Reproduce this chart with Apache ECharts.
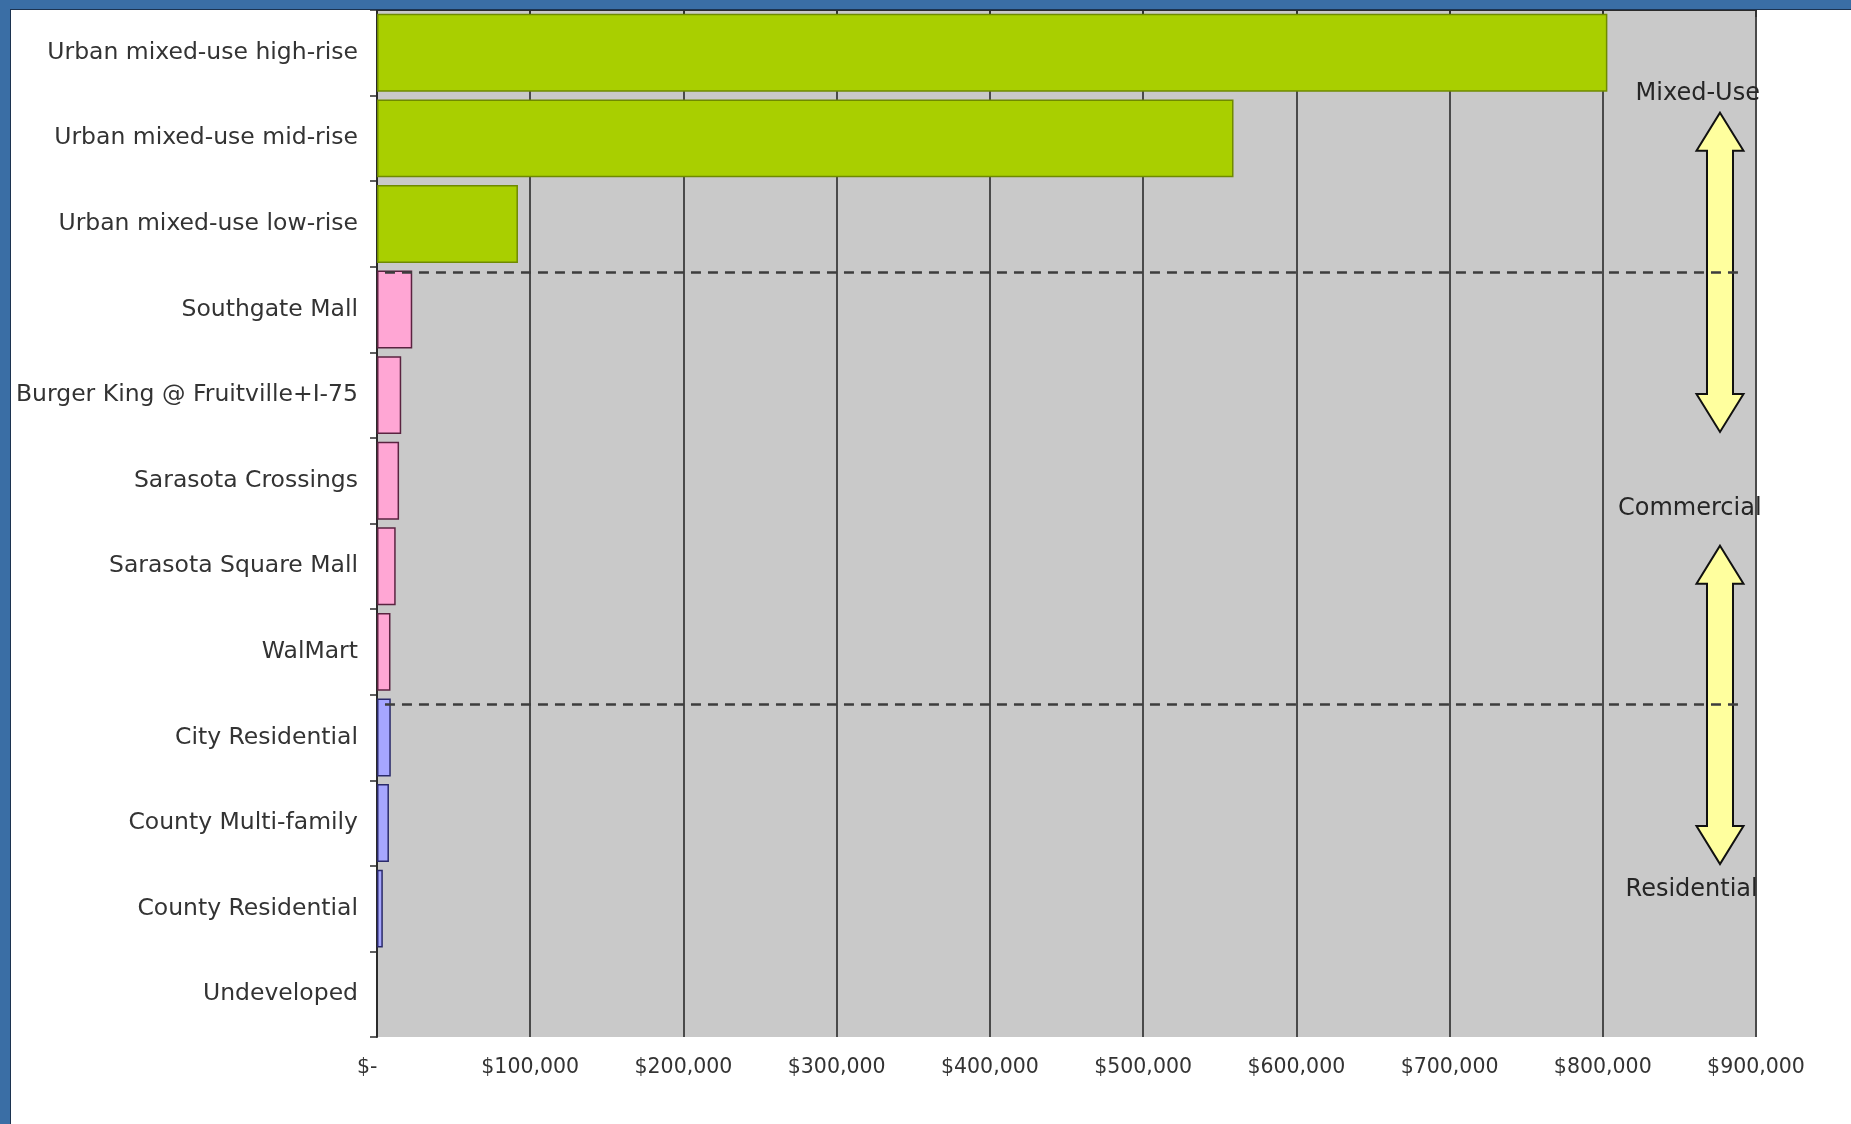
<!DOCTYPE html>
<html>
<head>
<meta charset="utf-8">
<script src="https://cdn.jsdelivr.net/npm/echarts@6.0.0/dist/echarts.min.js"></script>
<style>
  html, body { margin: 0; padding: 0; width: 1851px; height: 1124px; background: #3a6ea5; overflow: hidden; }
  #main { position: absolute; left: 10px; top: 9px; right: 0; bottom: 0; background: #fff;
          border-left: 1px solid #1c3350; border-top: 1px solid #1c3350; box-sizing: border-box; }
</style>
</head>
<body>
<div id="main"></div>
<script>
var categories = [
    'Urban mixed-use high-rise',
    'Urban mixed-use mid-rise',
    'Urban mixed-use low-rise',
    'Southgate Mall',
    'Burger King @ Fruitville+I-75',
    'Sarasota Crossings',
    'Sarasota Square Mall',
    'WalMart',
    'City Residential',
    'County Multi-family',
    'County Residential',
    'Undeveloped'
];
var values = [803000, 559000, 92000, 23000, 15800, 14400, 12200, 8800, 9000, 7800, 3800, 0];
var groups = ['mixed', 'mixed', 'mixed', 'commercial', 'commercial', 'commercial', 'commercial', 'commercial',
    'residential', 'residential', 'residential', 'residential'];

// annotations, in data units: x in dollars, y in category rows (0 = top of the plot, 12 = bottom)
var dividers = [3.06, 8.11];
var dividerSpan = [5200, 888300];
var arrows = [[876500, 1.20, 4.93], [876500, 6.26, 9.98]];
var sectionLabels = [
    ['Mixed-Use', 862000, 0.98],
    ['Commercial', 856800, 5.83],
    ['Residential', 858000, 10.28]
];

var groupStyle = {
    mixed: { color: '#a9cf00', borderColor: '#6f8a00' },
    commercial: { color: '#ffa6d4', borderColor: '#5a2340' },
    residential: { color: '#a6a6ff', borderColor: '#2a2a6a' }
};

var chartDom = document.getElementById('main');
var myChart = echarts.init(chartDom);
var option;

var barData = values.map(function (v, i) {
    var s = groupStyle[groups[i]];
    return { value: v, itemStyle: { color: s.color, borderColor: s.borderColor, borderWidth: v > 0 ? 1.5 : 0 } };
});

option = {
    animation: false,
    textStyle: { fontFamily: 'DejaVu Sans' },
    grid: {
        left: 366,
        top: 0,
        right: 95,
        bottom: 87,
        show: true,
        backgroundColor: '#c9c9c9',
        borderWidth: 0
    },
    xAxis: {
        type: 'value',
        min: 0,
        max: 900000,
        interval: 100000,
        axisLine: { show: true, lineStyle: { color: '#2b2b2b', width: 2 } },
        axisTick: { show: true, length: 7, lineStyle: { color: '#2b2b2b', width: 1.5 } },
        axisLabel: {
            color: '#333',
            fontSize: 20.5,
            margin: 20,
            formatter: function (v) {
                // accounting style: zero shows as a dash, padded like Excel
                return v === 0 ? '$-   ' : '$' + v.toLocaleString('en-US');
            }
        },
        splitLine: { show: true, lineStyle: { color: '#4a4a4a', width: 2 } }
    },
    yAxis: [
        {
            type: 'category',
            inverse: true,
            data: categories,
            axisLine: { show: true, lineStyle: { color: '#2b2b2b', width: 2 } },
            axisTick: { show: true, length: 7, lineStyle: { color: '#2b2b2b', width: 1.5 } },
            axisLabel: { color: '#333', fontSize: 23.5, margin: 19 },
            splitLine: { show: false }
        },
        {
            type: 'value',
            min: 0,
            max: 12,
            inverse: true,
            show: false
        }
    ],
    series: [
        {
            name: 'value',
            type: 'bar',
            barCategoryGap: '9%',
            data: barData
        },
        {
            type: 'custom',
            yAxisIndex: 1,
            z: 5,
            data: arrows,
            renderItem: function (params, api) {
                var top = api.coord([api.value(0), api.value(1)]);
                var bot = api.coord([api.value(0), api.value(2)]);
                var cx = top[0], hw = 23.5, sw = 13, hl = 38;
                return {
                    type: 'polygon',
                    shape: {
                        points: [
                            [cx, top[1]],
                            [cx + hw, top[1] + hl], [cx + sw, top[1] + hl],
                            [cx + sw, bot[1] - hl], [cx + hw, bot[1] - hl],
                            [cx, bot[1]],
                            [cx - hw, bot[1] - hl], [cx - sw, bot[1] - hl],
                            [cx - sw, top[1] + hl], [cx - hw, top[1] + hl]
                        ]
                    },
                    style: { fill: '#ffff9e', stroke: '#111', lineWidth: 2 }
                };
            }
        },
        {
            type: 'line',
            yAxisIndex: 1,
            data: [],
            markLine: {
                silent: true,
                symbol: 'none',
                z: 10,
                label: { show: false },
                lineStyle: { color: '#3d3d3d', type: [10, 7], width: 2.5 },
                data: dividers.map(function (y) {
                    return [{ coord: [dividerSpan[0], y] }, { coord: [dividerSpan[1], y] }];
                })
            }
        },
        {
            type: 'custom',
            yAxisIndex: 1,
            z: 12,
            data: sectionLabels.map(function (d) { return [d[1], d[2], d[0]]; }),
            renderItem: function (params, api) {
                var p = api.coord([api.value(0), api.value(1)]);
                return {
                    type: 'text',
                    style: {
                        x: p[0],
                        y: p[1],
                        text: sectionLabels[params.dataIndex][0],
                        fill: '#262626',
                        font: '24px "DejaVu Sans"',
                        textAlign: 'center',
                        textVerticalAlign: 'middle'
                    }
                };
            }
        }
    ]
};

option && myChart.setOption(option);
</script>
</body>
</html>
